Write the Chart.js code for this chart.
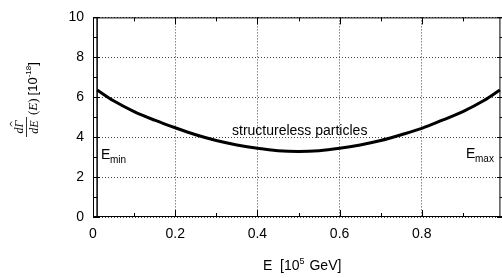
<!DOCTYPE html>
<html>
<head>
<meta charset="utf-8">
<script src="https://cdn.jsdelivr.net/npm/chart.js@4.4.0/dist/chart.umd.min.js"></script>
<style>
  html, body { margin: 0; padding: 0; background: #fff; overflow: hidden; }
  #wrap { position: relative; width: 506px; height: 278px; }
</style>
</head>
<body>
<div id="wrap"><canvas id="rateChart"></canvas></div>
<script>
// energy in 10^5 GeV, rate in 10^-18
const energies = [0.01, 0.05, 0.10, 0.15, 0.20, 0.25, 0.30, 0.35, 0.40, 0.45, 0.50,
                  0.55, 0.60, 0.65, 0.70, 0.75, 0.80, 0.85, 0.90, 0.95, 0.99];
const rates = [6.36, 5.82, 5.28, 4.85, 4.47, 4.12, 3.83, 3.61, 3.44, 3.32, 3.28,
               3.32, 3.44, 3.61, 3.83, 4.12, 4.44, 4.85, 5.28, 5.82, 6.36];
const eMin = 0.01;
const eMax = 0.99;
const xTicks = [0, 0.2, 0.4, 0.6, 0.8];
const yTicks = [0, 2, 4, 6, 8, 10];

const sans = '"Liberation Sans", Arial, sans-serif';
const serif = '"Liberation Serif", "Times New Roman", serif';

// frame on all sides, inward ticks, text labels
const decorPlugin = {
    id: 'decor',
    afterDatasetsDraw(chart) {
        const ctx = chart.ctx;
        const a = chart.chartArea;
        const xs = chart.scales.x, ys = chart.scales.y;
        ctx.save();
        ctx.strokeStyle = '#000';
        ctx.lineWidth = 1;
        ctx.strokeRect(a.left + 0.5, a.top + 0.5, a.right - a.left - 1, a.bottom - a.top - 1);

        // minor + major ticks
        ctx.beginPath();
        for (let v = 0; v <= 1.0001; v += 0.1) {
            const px = Math.round(xs.getPixelForValue(v)) + 0.5;
            const len = (Math.round(v * 10) % 2 === 0) ? 7 : 4;
            ctx.moveTo(px, a.bottom); ctx.lineTo(px, a.bottom - len);
            ctx.moveTo(px, a.top); ctx.lineTo(px, a.top + len);
        }
        for (let v = 0; v <= 10; v += 1) {
            const py = Math.round(ys.getPixelForValue(v)) + 0.5;
            const len = (v % 2 === 0) ? 7 : 4;
            ctx.moveTo(a.left, py); ctx.lineTo(a.left + len, py);
            ctx.moveTo(a.right, py); ctx.lineTo(a.right - len, py);
        }
        ctx.stroke();

        ctx.fillStyle = '#000';
        ctx.textBaseline = 'alphabetic';
        ctx.textAlign = 'left';

        // curve label
        ctx.font = '14px ' + sans;
        ctx.fillText('structureless particles', 232, 135);

        // E_min / E_max
        ctx.font = '14px ' + sans;
        ctx.fillText('E', 101, 159);
        ctx.font = '10px ' + sans;
        ctx.fillText('min', 110, 163);
        ctx.font = '14px ' + sans;
        ctx.fillText('E', 466, 158);
        ctx.font = '10px ' + sans;
        ctx.fillText('max', 475, 162);

        // x title
        ctx.font = '14px ' + sans;
        let x = 263;
        ctx.fillText('E  [10', x, 270);
        x += ctx.measureText('E  [10').width;
        ctx.font = '9px ' + sans;
        ctx.fillText('5', x, 264);
        x += ctx.measureText('5').width + 1;
        ctx.font = '14px ' + sans;
        ctx.fillText(' GeV]', x, 270);

        // y title, rotated
        ctx.translate(32, 138);
        ctx.rotate(-Math.PI / 2);
        ctx.textAlign = 'center';
        ctx.font = 'italic 12px ' + serif;
        ctx.fillText('dΓ', 11, -9);
        ctx.fillText('dE', 11, 5.5);
        ctx.beginPath();
        ctx.lineWidth = 0.8;
        ctx.moveTo(1, -5.5); ctx.lineTo(21, -5.5);
        // hat over Gamma
        ctx.moveTo(11.5, -20); ctx.lineTo(14, -22); ctx.lineTo(16.5, -20);
        ctx.stroke();
        ctx.textAlign = 'left';
        ctx.font = '13px ' + serif;
        let t = 23;
        ctx.fillText('(', t, 5); t += ctx.measureText('(').width;
        ctx.font = 'italic 13px ' + serif;
        ctx.fillText('E', t, 5); t += ctx.measureText('E').width;
        ctx.font = '13px ' + serif;
        ctx.fillText(')', t, 5); t += ctx.measureText(')').width + 3;
        ctx.font = '13px ' + sans;
        ctx.fillText('[10', t, 5); t += ctx.measureText('[10').width;
        ctx.font = '8px ' + sans;
        ctx.fillText('-18', t, -1); t += ctx.measureText('-18').width;
        ctx.font = '13px ' + sans;
        ctx.fillText(']', t, 5);
        ctx.restore();
    }
};

const ctxRate = document.getElementById('rateChart').getContext('2d');
const rateChart = new Chart(ctxRate, {
    type: 'line',
    data: {
        datasets: [
            {
                data: energies.map((e, i) => ({ x: e, y: rates[i] })),
                borderColor: '#000',
                borderWidth: 3,
                pointRadius: 0,
                cubicInterpolationMode: 'monotone',
                fill: false
            },
            {
                data: [{ x: eMin, y: 0 }, { x: eMin, y: 10 }],
                borderColor: '#000',
                borderWidth: 1.5,
                pointRadius: 0
            },
            {
                data: [{ x: eMax, y: 0 }, { x: eMax, y: 10 }],
                borderColor: '#555',
                borderWidth: 1.5,
                pointRadius: 0
            }
        ]
    },
    options: {
        responsive: true,
        maintainAspectRatio: false,
        animation: false,
        layout: { padding: { top: 12, right: 2, left: 0, bottom: 0 } },
        scales: {
            x: {
                type: 'linear',
                min: 0,
                max: 1,
                afterFit: (s) => { s.height = 61; },
                afterBuildTicks: (s) => { s.ticks = xTicks.map(v => ({ value: v })); },
                grid: { color: '#444', lineWidth: 1, drawTicks: false },
                border: { display: false, dash: [1, 2] },
                ticks: {
                    padding: 9,
                    color: '#000',
                    font: { family: sans, size: 14 },
                    callback: (v) => (v === 0 ? '0' : v.toFixed(1))
                }
            },
            y: {
                min: 0,
                max: 10,
                afterFit: (s) => { s.width = 93; },
                afterBuildTicks: (s) => { s.ticks = yTicks.map(v => ({ value: v })); },
                grid: { color: '#444', lineWidth: 1, drawTicks: false },
                border: { display: false, dash: [1, 2] },
                ticks: {
                    padding: 9,
                    color: '#000',
                    font: { family: sans, size: 14 }
                }
            }
        },
        plugins: {
            legend: { display: false },
            tooltip: { enabled: false }
        }
    },
    plugins: [decorPlugin]
});
</script>
</body>
</html>
